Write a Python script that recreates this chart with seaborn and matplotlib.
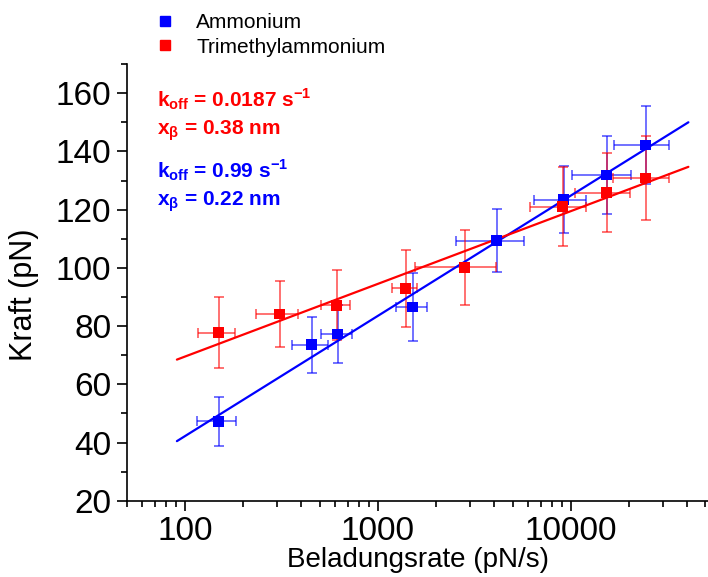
import numpy as np
import pandas as pd
import matplotlib
matplotlib.use("Agg")
import matplotlib.pyplot as plt
from matplotlib.lines import Line2D
from matplotlib.ticker import LogLocator, MultipleLocator, NullFormatter, FixedLocator
import seaborn as sns

# Ammonium
amm_rate = [150, 455, 621, 1517, 4140, 9200, 15380, 24500]
amm_rate_err = [34, 95, 113, 278, 1580, 2770, 5160, 7750]
amm_force = [47.3, 73.6, 77.3, 86.6, 109.4, 123.4, 131.9, 142.2]
amm_force_err = [8.5, 9.7, 10.0, 11.8, 10.7, 11.5, 13.3, 13.5]

# Trimethylammonium
tma_rate = [150, 310, 613, 1397, 2826, 9100, 15380, 24500]
tma_rate_err = [33, 77, 105, 206, 1260, 2960, 4850, 7950]
tma_force = [77.7, 84.2, 87.2, 93.0, 100.2, 121.0, 125.8, 130.9]
tma_force_err = [12.2, 11.3, 12.1, 13.3, 12.8, 13.6, 13.5, 14.4]

# fitted lines (end points)
fit_rate = [91, 40800]
amm_fit = [40.5, 150.0]
tma_fit = [68.5, 134.7]

BLUE = "#0000ff"
RED = "#ff0000"

sns.set_style("ticks")
plt.rcParams["font.family"] = ["Liberation Sans", "DejaVu Sans"]
plt.rcParams["text.color"] = "black"
plt.rcParams["axes.labelcolor"] = "black"
plt.rcParams["mathtext.fontset"] = "custom"
plt.rcParams["mathtext.bf"] = "Liberation Sans:bold"
plt.rcParams["mathtext.rm"] = "Liberation Sans:bold"

fig = plt.figure(figsize=(7.08, 5.77), dpi=100)
ax = fig.add_axes([0.179, 0.132, 0.822, 0.757])

fits = pd.DataFrame({
    "rate": fit_rate * 2,
    "force": amm_fit + tma_fit,
    "set": ["amm"] * 2 + ["tma"] * 2,
})
sns.lineplot(data=fits, x="rate", y="force", hue="set",
             palette={"amm": BLUE, "tma": RED}, linewidth=1.6,
             legend=False, ax=ax, zorder=3)

for rate, rerr, force, ferr, col in [
    (amm_rate, amm_rate_err, amm_force, amm_force_err, BLUE),
    (tma_rate, tma_rate_err, tma_force, tma_force_err, RED),
]:
    ax.errorbar(rate, force, xerr=rerr, yerr=ferr, fmt="none", ecolor=col,
                elinewidth=1.2, capsize=3.6, capthick=1.2, alpha=0.65, zorder=2)

pts = pd.DataFrame({
    "rate": amm_rate + tma_rate,
    "force": amm_force + tma_force,
    "set": ["Ammonium"] * 8 + ["Trimethylammonium"] * 8,
})
sns.scatterplot(data=pts, x="rate", y="force", hue="set",
                palette={"Ammonium": BLUE, "Trimethylammonium": RED},
                marker="s", s=60, linewidth=0, legend=False, ax=ax, zorder=4)

ax.set_xscale("log")
ax.set_xlim(50, 52000)
ax.set_ylim(20, 170)
ax.yaxis.set_major_locator(FixedLocator([20, 40, 60, 80, 100, 120, 140, 160]))
ax.yaxis.set_minor_locator(MultipleLocator(10))
ax.xaxis.set_major_locator(FixedLocator([100, 1000, 10000]))
ax.xaxis.set_major_formatter(matplotlib.ticker.FuncFormatter(lambda v, p: f"{int(v)}"))
ax.xaxis.set_minor_locator(LogLocator(base=10, subs=np.arange(2, 10)))
ax.xaxis.set_minor_formatter(NullFormatter())

ax.tick_params(axis="both", which="major", direction="out", length=7, width=1.2,
               labelsize=24, color="black", labelcolor="black", pad=4)
ax.tick_params(axis="both", which="minor", direction="out", length=4, width=1.2,
               color="black")
for side in ["left", "bottom"]:
    ax.spines[side].set_linewidth(1.2)
    ax.spines[side].set_color("black")
sns.despine(ax=ax)

ax.set_xlabel("Beladungsrate (pN/s)", fontsize=20, labelpad=0)
ax.set_ylabel("Kraft (pN)", fontsize=22)
ax.yaxis.set_label_coords(-0.150, 0.471)

ann = [
    (r"$\mathbf{k_{off}}$ = 0.0187 s$^{\mathbf{-1}}$", RED, 99),
    (r"$\mathbf{x_{\beta}}$ = 0.38 nm", RED, 131),
    (r"$\mathbf{k_{off}}$ = 0.99 s$^{\mathbf{-1}}$", BLUE, 170),
    (r"$\mathbf{x_{\beta}}$ = 0.22 nm", BLUE, 202),
]
for txt, col, ypix in ann:
    fig.text(157 / 708, 1 - ypix / 577, txt, color=col, fontsize=15,
             fontweight="bold", ha="left", va="center")

handles = [
    Line2D([], [], marker="s", color=BLUE, linestyle="none", markersize=7),
    Line2D([], [], marker="s", color=RED, linestyle="none", markersize=7),
]
fig.legend(handles, ["Ammonium", "Trimethylammonium"], loc="upper left",
           bbox_to_anchor=(136 / 708, 1 - 5 / 577), frameon=False, fontsize=15,
           handletextpad=0.5, labelspacing=0.25, borderaxespad=0,
           labelcolor="black")

fig.savefig("out.png", dpi=100)
